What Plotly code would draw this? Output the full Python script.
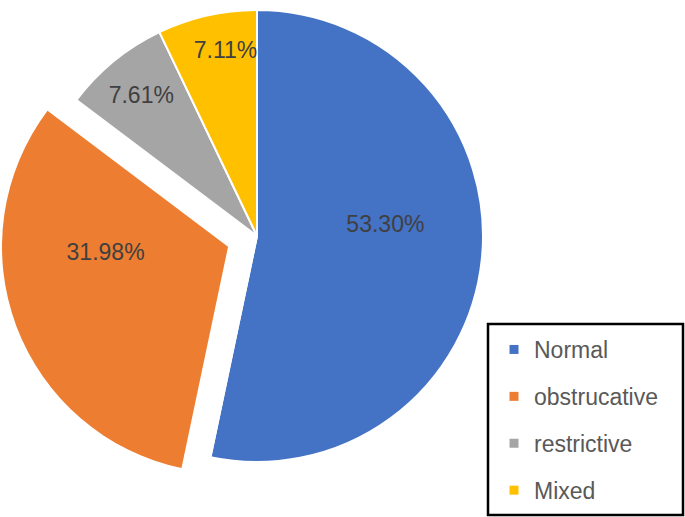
import plotly.graph_objects as go
import math

labels = ["Normal", "obstrucative", "restrictive", "Mixed"]
values = [53.30, 31.98, 7.61, 7.11]
colors = ["#4472C4", "#ED7D31", "#A5A5A5", "#FFC000"]
pulled = "obstrucative"

W, H = 685, 517
cx, cy, r = 257, 236, 226
pull = 0.137

FONT = "Liberation Sans, Arial, sans-serif"
texts = [f"{v:.2f}%" for v in values]
pi = labels.index(pulled)
ni = labels.index("Normal")
mi = labels.index("Mixed")
ri = labels.index("restrictive")

def dom(cx_, cy_, rr=r):
    return dict(x=[(cx_ - rr) / W, (cx_ + rr) / W], y=[1 - (cy_ + rr) / H, 1 - (cy_ - rr) / H])

total = sum(values)
theta = 2 * math.pi * (sum(values[:pi]) + values[pi] / 2) / total
d = pull * r
cxB = cx + d * math.sin(theta)
cyB = cy - d * math.cos(theta)

clear = "rgba(0,0,0,0)"
only = lambda arr, keep, other: [a if i in keep else other for i, a in enumerate(arr)]

fig = go.Figure()
common = dict(labels=labels, values=values, sort=False, direction="clockwise",
              textinfo="text", textposition="inside", insidetextorientation="horizontal",
              textfont=dict(family=FONT, size=23, color="#404040"), showlegend=False)
keepA = [i for i in range(len(labels)) if i != pi]
# main pie, pulled slice hidden
fig.add_trace(go.Pie(text=only(texts, [ri], ""),
                     marker=dict(colors=only(colors, keepA, clear), line=dict(color="white", width=2)),
                     domain=dom(cx, cy), rotation=0, hoverinfo="label+percent", **common))
# pulled slice
fig.add_trace(go.Pie(text=[""] * len(labels),
                     marker=dict(colors=only(colors, [pi], clear), line=dict(color=clear, width=0)),
                     domain=dom(cxB, cyB), rotation=0, hoverinfo="label+percent", **common))

# label placement traces (transparent)
def label_trace(idx, ccx, ccy, rot):
    return go.Pie(text=only(texts, [idx], ""),
                  marker=dict(colors=[clear] * len(labels), line=dict(color=clear, width=0)),
                  domain=dom(ccx, ccy), rotation=rot, hoverinfo="skip", **common)

fig.add_trace(label_trace(ni, cx + 16, cy, -12))
fig.add_trace(label_trace(pi, cxB, cyB, 18))
fig.add_trace(label_trace(mi, cx, cy - 4, 3))

for i, (lab, c) in enumerate(zip(labels, colors)):
    fig.add_trace(go.Scatter(x=[None], y=[None], mode="markers", name=lab,
                             marker=dict(symbol="square", size=9, color=c),
                             legendgroup=f"g{i}", showlegend=True))

fig.update_layout(
    width=W, height=H, margin=dict(l=0, r=0, t=0, b=0, autoexpand=False),
    paper_bgcolor="white", plot_bgcolor="white",
    xaxis=dict(visible=False), yaxis=dict(visible=False),
    uniformtext=dict(minsize=23, mode="show"),
    legend=dict(x=494 / W, y=1 - 328 / H, xanchor="left", yanchor="top",
                font=dict(family=FONT, size=23, color="#595959"),
                tracegroupgap=14, bgcolor="rgba(0,0,0,0)", borderwidth=0),
    shapes=[dict(type="rect", xref="paper", yref="paper",
                 x0=488 / W, x1=683 / W, y0=1 - 515 / H, y1=1 - 324 / H,
                 line=dict(color="black", width=2.5), fillcolor="rgba(0,0,0,0)")],
)
fig.write_html("out.html", config={"displayModeBar": False},
               post_script="document.body.style.margin='0';document.body.style.overflow='hidden';")
